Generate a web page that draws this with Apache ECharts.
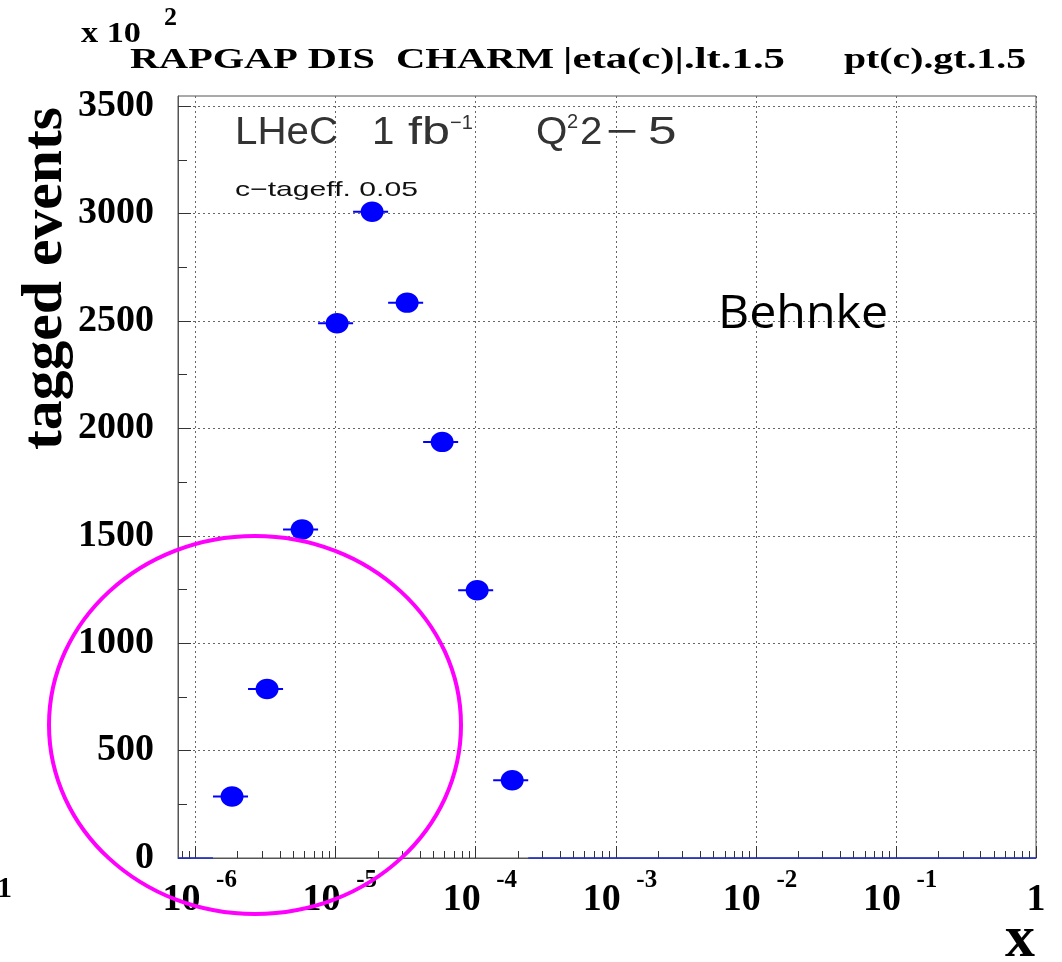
<!DOCTYPE html>
<html>
<head>
<meta charset="utf-8">
<script src="https://cdn.jsdelivr.net/npm/echarts@6/dist/echarts.min.js"></script>
<style>
  html, body { margin: 0; padding: 0; background: #fff; }
  #chart { width: 1062px; height: 962px; }
</style>
</head>
<body>
<div id="chart"></div>
<script>
// x is drawn as log10(x) on a linear value axis; tick labels are written as powers of ten
const xMinLog = -6.125;
const xMaxLog = 0;
const decadeTicks = [-6, -5, -4, -3, -2, -1, 0];
const yMax = 3547;
const yTicks = [0, 500, 1000, 1500, 2000, 2500, 3000, 3500];
const yMinorTicks = [250, 750, 1250, 1750, 2250, 2750, 3250];

// filled bins: centre and edges in log10(x), contents in units of 10^2 tagged events
const binCentreLog = [-5.75, -5.5, -5.25, -5.0, -4.75, -4.5, -4.25, -4.0, -3.75];
const binLowLog    = [-5.875, -5.625, -5.375, -5.125, -4.875, -4.625, -4.375, -4.125, -3.875];
const binHighLog   = [-5.625, -5.375, -5.125, -4.875, -4.625, -4.375, -4.125, -3.875, -3.625];
const taggedEvents = [286, 787, 1529, 2489, 3008, 2585, 1937, 1246, 362];

// x ranges (log10) whose bins are empty
const emptyFromLog = [-6.125, -3.625];
const emptyToLog   = [-5.875, 0];

// minor ticks at 2..9 times each power of ten
const minorTicks = [];
for (let d = -7; d < 0; d++) {
  for (let k = 2; k <= 9; k++) {
    const v = d + Math.log10(k);
    if (v > xMinLog && v < xMaxLog) minorTicks.push(v);
  }
}

const SERIF = '"Liberation Serif", "Times New Roman", serif';
const SANS = '"Liberation Sans", Arial, sans-serif';
const BLUE = '#0000ff';
const AXIS = '#555555';

const measureCtx = document.createElement('canvas').getContext('2d');
// a text element stretched horizontally to the given width
function fitText(str, left, width, cy, font, fill, extra) {
  measureCtx.font = font;
  const w = measureCtx.measureText(str).width;
  return Object.assign({
    type: 'text', x: left, y: cy, scaleX: width / w, z: 50,
    style: { text: str, font: font, fill: fill, align: 'left', verticalAlign: 'middle' }
  }, extra || {});
}
function placeText(str, left, cy, font, fill, sx) {
  return {
    type: 'text', x: left, y: cy, scaleX: sx || 1, z: 50,
    style: { text: str, font: font, fill: fill, align: 'left', verticalAlign: 'middle' }
  };
}

const pointData = binCentreLog.map((x, i) => [x, taggedEvents[i], binLowLog[i], binHighLog[i]]);
const emptyData = emptyFromLog.map((a, i) => [a, emptyToLog[i], 0]);

const titleFont = 'bold 30px ' + SERIF;
const lhecFont = '38px ' + SANS;
const supFont = '20px ' + SANS;
const TICK = { color: '#333', width: 1 };

const chart = echarts.init(document.getElementById('chart'), null, { renderer: 'canvas' });

chart.setOption({
  backgroundColor: '#ffffff',
  animation: false,
  grid: {
    left: 178, right: 26, top: 96, bottom: 104,
    show: true, borderColor: AXIS, borderWidth: 1, backgroundColor: 'transparent'
  },
  xAxis: [
    {
      // decades: major ticks, mantissa labels and grid lines
      type: 'value', min: xMinLog, max: xMaxLog, position: 'bottom',
      axisLine: { show: true, onZero: false, lineStyle: { color: AXIS, width: 1 } },
      axisTick: { show: true, inside: true, length: 12, customValues: decadeTicks, lineStyle: TICK },
      axisLabel: {
        show: true, customValues: decadeTicks, margin: 23, showMinLabel: true, showMaxLabel: true,
        formatter: v => (v === 0 ? '{o|1}' : '{t|10}'),
        rich: {
          t: { fontFamily: SERIF, fontWeight: 'bold', fontSize: 38, lineHeight: 38, color: '#000',
               padding: [0, 28, 0, 0] },
          o: { fontFamily: SERIF, fontWeight: 'bold', fontSize: 38, lineHeight: 38, color: '#000' }
        }
      },
      splitLine: { show: true, lineStyle: { color: '#666', width: 1, type: [2, 3] } }
    },
    {
      // minor ticks
      type: 'value', min: xMinLog, max: xMaxLog, position: 'bottom',
      axisLine: { show: false, onZero: false },
      axisTick: { show: true, inside: true, length: 7, customValues: minorTicks, lineStyle: TICK },
      axisLabel: { show: false },
      splitLine: { show: false }
    },
    {
      // exponents of the decade labels
      type: 'value', min: xMinLog, max: xMaxLog, position: 'bottom',
      axisLine: { show: false, onZero: false },
      axisTick: { show: false },
      axisLabel: {
        show: true, customValues: decadeTicks.filter(v => v !== 0), margin: 10,
        showMinLabel: true, showMaxLabel: true,
        formatter: v => '{p|' + v + '}',
        rich: {
          p: { fontFamily: SERIF, fontWeight: 'bold', fontSize: 25, lineHeight: 25, color: '#000',
               padding: [0, 0, 0, 62] }
        }
      },
      splitLine: { show: false }
    }
  ],
  yAxis: [
    {
      type: 'value', min: 0, max: yMax, interval: 500, position: 'left',
      axisLine: { show: true, onZero: false, lineStyle: { color: AXIS, width: 1 } },
      axisTick: { show: true, inside: true, length: 13, customValues: yTicks, lineStyle: TICK },
      axisLabel: {
        show: true, customValues: yTicks, margin: 24, formatter: v => String(v),
        fontFamily: SERIF, fontWeight: 'bold', fontSize: 38, color: '#000'
      },
      splitLine: { show: true, lineStyle: { color: '#666', width: 1, type: [2, 3] } }
    },
    {
      // minor ticks, kept on the left edge instead of crossing at x = 0
      type: 'value', min: 0, max: yMax, position: 'left',
      axisLine: { show: false, onZero: false },
      axisTick: { show: true, inside: true, length: 9, customValues: yMinorTicks, lineStyle: TICK },
      axisLabel: { show: false },
      splitLine: { show: false }
    }
  ],
  series: [
    {
      // empty bins drawn as a flat line along zero
      type: 'custom', xAxisIndex: 0, yAxisIndex: 0, z: 3,
      data: emptyData,
      encode: { x: [0, 1], y: 2 },
      renderItem: (params, api) => {
        const a = api.coord([api.value(0), api.value(2)]);
        const b = api.coord([api.value(1), api.value(2)]);
        return { type: 'line', shape: { x1: a[0], y1: a[1], x2: b[0], y2: b[1] },
                 style: { stroke: '#1f30d0', lineWidth: 1.5 } };
      }
    },
    {
      // filled bins: bin-width bar and a filled ellipse marker
      type: 'custom', xAxisIndex: 0, yAxisIndex: 0, z: 4,
      data: pointData,
      encode: { x: [0, 2, 3], y: 1 },
      renderItem: (params, api) => {
        const y = api.value(1);
        const c = api.coord([api.value(0), y]);
        const lo = api.coord([api.value(2), y]);
        const hi = api.coord([api.value(3), y]);
        return {
          type: 'group',
          children: [
            { type: 'line', shape: { x1: lo[0], y1: lo[1], x2: hi[0], y2: hi[1] },
              style: { stroke: BLUE, lineWidth: 2 } },
            { type: 'ellipse', shape: { cx: c[0] + 1.5, cy: c[1], rx: 11.5, ry: 10.2 },
              style: { fill: BLUE, stroke: null } }
          ]
        };
      }
    }
  ],
  graphic: [
    // multiplier of the y scale
    fitText('x 10', 81, 60, 34, 'bold 30px ' + SERIF, '#000'),
    placeText('2', 164, 18, 'bold 26px ' + SERIF, '#000', 1.0),
    // title
    fitText('RAPGAP DIS', 130, 245, 60, titleFont, '#000'),
    fitText('CHARM', 396, 158, 60, titleFont, '#000'),
    fitText('|eta(c)|.lt.1.5', 563, 222, 60, titleFont, '#000'),
    fitText('pt(c).gt.1.5', 844, 182, 60, titleFont, '#000'),
    // in-frame annotations
    fitText('LHeC', 235, 103, 134, lhecFont, '#333'),
    placeText('1', 372, 134, lhecFont, '#333', 1.06),
    fitText('fb', 408, 42, 134, lhecFont, '#333'),
    placeText('−1', 450, 123, supFont, '#333', 1.0),
    placeText('Q', 536, 134, lhecFont, '#333', 1.06),
    placeText('2', 567, 122, supFont, '#333', 1.0),
    placeText('2', 580, 134, lhecFont, '#333', 1.06),
    fitText('−', 606, 32, 134, lhecFont, '#333'),
    placeText('5', 648, 134, lhecFont, '#333', 1.35),
    fitText('c−tageff. 0.05', 235, 183, 190.5, '21px ' + SANS, '#111'),
    fitText('Behnke', 718, 170, 315, '46px "Open Sans", "Noto Sans", sans-serif', '#000'),
    // axis titles
    fitText('tagged events', 46, 343, 450, 'bold 58px ' + SERIF, '#000',
            { x: 46, y: 450, rotation: Math.PI / 2 }),
    { type: 'text', x: 1020, y: 940, z: 50,
      style: { text: 'x', font: 'bold 60px ' + SERIF, fill: '#000', align: 'center', verticalAlign: 'middle' } },
    // clipped digit at the left edge
    placeText('1', -3, 889, 'bold 30px ' + SERIF, '#000', 1.0),
    // highlighted region
    { type: 'ellipse', z: 100,
      shape: { cx: 255, cy: 725, rx: 206, ry: 189 },
      style: { fill: 'none', stroke: '#ff00ff', lineWidth: 4 } }
  ]
});
</script>
</body>
</html>
